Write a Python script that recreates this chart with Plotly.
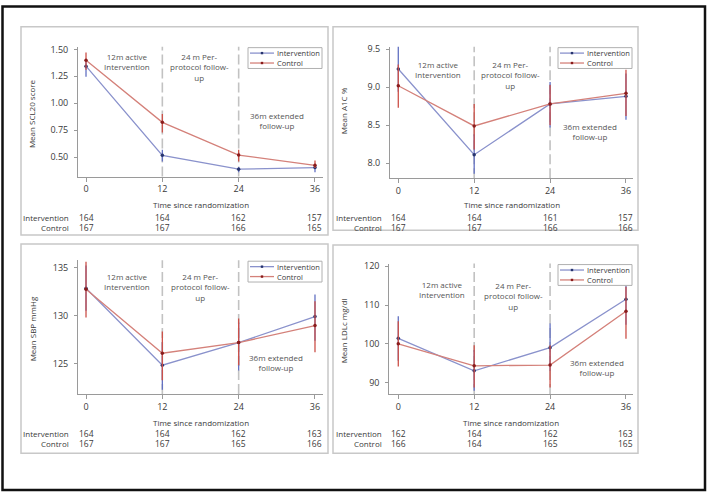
import plotly.graph_objects as go

# ---------------- data ----------------
months = [0, 12, 24, 36]
tick_months = [0, 12, 24, 36]

scl_int = [1.344, 0.517, 0.389, 0.404]
scl_int_lo = [1.246, 0.46, 0.36, 0.36]
scl_int_hi = [1.384, 0.57, 0.41, 0.43]
scl_ctl = [1.40, 0.823, 0.52, 0.424]
scl_ctl_lo = [1.31, 0.73, 0.46, 0.40]
scl_ctl_hi = [1.47, 0.90, 0.57, 0.47]

a1c_int = [9.24, 8.11, 8.78, 8.88]
a1c_int_lo = [8.94, 7.86, 8.47, 8.57]
a1c_int_hi = [9.55, 8.38, 9.07, 9.18]
a1c_ctl = [9.02, 8.49, 8.78, 8.92]
a1c_ctl_lo = [8.73, 8.18, 8.50, 8.62]
a1c_ctl_hi = [9.30, 8.78, 9.03, 9.23]

sbp_int = [132.85, 124.85, 127.2, 129.9]
sbp_int_lo = [130.5, 122.3, 124.3, 127.4]
sbp_int_hi = [135.2, 127.25, 129.3, 132.2]
sbp_ctl = [132.75, 126.1, 127.2, 128.97]
sbp_ctl_lo = [129.8, 123.3, 124.85, 126.2]
sbp_ctl_hi = [135.6, 128.35, 129.7, 131.5]

ldl_int = [101.4, 93.0, 99.0, 111.5]
ldl_int_lo = [95.6, 87.9, 93.0, 104.9]
ldl_int_hi = [107.1, 98.4, 105.2, 118.2]
ldl_ctl = [100.0, 94.3, 94.5, 108.4]
ldl_ctl_lo = [94.1, 88.7, 88.7, 101.3]
ldl_ctl_hi = [105.8, 99.6, 99.6, 114.7]

n_int = [[164, 164, 162, 157], [164, 164, 161, 157], [164, 164, 162, 163], [162, 164, 162, 163]]
n_ctl = [[167, 167, 166, 165], [167, 167, 166, 166], [167, 167, 165, 166], [166, 164, 165, 165]]

y_titles = ["Mean SCL20 score", "Mean A1C %", "Mean SBP mmHg", "Mean LDLc mg/dl"]
y_ticks = [[0.5, 0.75, 1.0, 1.25, 1.5], [8.0, 8.5, 9.0, 9.5], [125, 130, 135], [90, 100, 110, 120]]
y_fmt = [".2f", ".1f", "d", "d"]
phase_labels = ["12m active<br>Intervention", "24 m Per-<br>protocol follow-<br>up", "36m extended<br>follow-up"]
series_names = ["Intervention", "Control"]
x_title = "Time since randomization"

panels = [
    (scl_int, scl_int_lo, scl_int_hi, scl_ctl, scl_ctl_lo, scl_ctl_hi),
    (a1c_int, a1c_int_lo, a1c_int_hi, a1c_ctl, a1c_ctl_lo, a1c_ctl_hi),
    (sbp_int, sbp_int_lo, sbp_int_hi, sbp_ctl, sbp_ctl_lo, sbp_ctl_hi),
    (ldl_int, ldl_int_lo, ldl_int_hi, ldl_ctl, ldl_ctl_lo, ldl_ctl_hi),
]

# ---------------- layout geometry (pixels) ----------------
W, H = 708, 494
def X(px): return px / W
def Y(py): return 1 - py / H

geo = [
    dict(l=78, r=323, t=43, b=174, xr=[-1.26, 37.26], yr=[0.32, 1.525]),
    dict(l=390, r=633, t=43, b=175.7, xr=[-1.31, 37.11], yr=[7.80, 9.535]),
    dict(l=78, r=323, t=258.3, b=393.3, xr=[-1.26, 37.26], yr=[121.85, 135.76]),
    dict(l=389.3, r=633, t=261.7, b=393.3, xr=[-1.42, 37.11], yr=[87.0, 120.7]),
]
boxes = [(21, 23, 328, 233), (333, 23, 638, 228), (21, 242, 328, 453), (333, 243, 638, 453)]
ytitle_pos = [(31, 111), (343, 108), (32, 328), (343, 330)]
phase_pos = [
    [(6.4, 58), (17.9, 63.5), (30.1, 117.5)],
    [(6.3, 66.3), (17.7, 72), (30.3, 129)],
    [(6.4, 279.7), (18.0, 285.5), (29.9, 361.2)],
    [(6.9, 287.7), (18.2, 294), (31.4, 366.3)],
]
table_y = [(202, 215, 225), (202, 215, 225), (421.7, 433, 443), (421.7, 433, 443)]
rowlabel_x = [70.7, 383.5, 70.7, 383.5]

FONT = "Open Sans"
TXT = "#3a3a3a"
INT_LINE, INT_ERR, INT_MK = "#8a92cc", "#6270c2", "#27346e"
CTL_LINE, CTL_ERR, CTL_MK = "#d4817a", "#cc5048", "#8a1c1c"

fig = go.Figure()
shapes = []
annotations = []

for i, (p, g) in enumerate(zip(panels, geo)):
    k = "" if i == 0 else str(i + 1)
    xa, ya = "x" + k, "y" + k
    mi, mi_lo, mi_hi, mc, mc_lo, mc_hi = p
    for mean, lo, hi, name, lc, ec, mk in [
        (mi, mi_lo, mi_hi, series_names[0], INT_LINE, INT_ERR, INT_MK),
        (mc, mc_lo, mc_hi, series_names[1], CTL_LINE, CTL_ERR, CTL_MK),
    ]:
        fig.add_trace(go.Scatter(
            x=months, y=mean, xaxis=xa, yaxis=ya, name=name, mode="lines+markers",
            line=dict(color=lc, width=1.3),
            marker=dict(color=mk, size=3.5, symbol="circle"),
            error_y=dict(type="data", symmetric=False,
                         array=[h - m for h, m in zip(hi, mean)],
                         arrayminus=[m - l for m, l in zip(mean, lo)],
                         color=ec, thickness=1.3, width=0),
            showlegend=False, hoverinfo="skip",
        ))
    axx = dict(domain=[X(g["l"]), X(g["r"])], range=g["xr"], anchor=ya,
               tickvals=tick_months, ticks="outside", ticklen=4, tickcolor="#9a9a9a",
               showline=True, linecolor="#9a9a9a", linewidth=1, showgrid=False, zeroline=False,
               tickfont=dict(size=9, color=TXT, family=FONT))
    axy = dict(domain=[Y(g["b"]), Y(g["t"])], range=g["yr"], anchor=xa,
               tickvals=y_ticks[i], tickformat=y_fmt[i], ticks="outside", ticklen=3,
               ticklabelstandoff=4,
               tickcolor="#9a9a9a", showline=True, linecolor="#9a9a9a", linewidth=1,
               showgrid=False, zeroline=False, tickfont=dict(size=9, color=TXT, family=FONT))
    fig.update_layout(**{"xaxis" + k: axx, "yaxis" + k: axy})

    for xv in (12, 24):
        shapes.append(dict(type="line", xref=xa, yref=ya + " domain", x0=xv, x1=xv, y0=0, y1=1,
                           line=dict(color="#c2c2c2", width=1.6, dash="10px,4px"), layer="below"))
    for lab, (xv, py) in zip(phase_labels, phase_pos[i]):
        annotations.append(dict(text=lab, xref=xa, yref="paper", x=xv, y=Y(py), showarrow=False,
                                xanchor="center", yanchor="middle",
                                font=dict(size=8, color="#555555", family=FONT)))
    bx0, by0, bx1, by1 = boxes[i]
    shapes.append(dict(type="rect", xref="paper", yref="paper", x0=X(bx0), x1=X(bx1),
                       y0=Y(by1), y1=Y(by0), line=dict(color="#c8c8c8", width=1.5)))
    tx, ty = ytitle_pos[i]
    annotations.append(dict(text=y_titles[i], xref="paper", yref="paper", x=X(tx), y=Y(ty),
                            textangle=-90, showarrow=False, xanchor="center", yanchor="middle",
                            font=dict(size=8, color=TXT, family=FONT)))
    # manual legend
    lx0, lx1 = g["r"] - 75, g["r"] - 1
    ly0, ly1 = g["t"] + 1, g["t"] + 22
    shapes.append(dict(type="rect", xref="paper", yref="paper", x0=X(lx0), x1=X(lx1),
                       y0=Y(ly1), y1=Y(ly0), line=dict(color="#b0b0b0", width=1),
                       fillcolor="white"))
    for j, (nm, lc, mk) in enumerate([(series_names[0], INT_LINE, INT_MK),
                                       (series_names[1], CTL_LINE, CTL_MK)]):
        ry = ly0 + 5.5 + j * 10
        shapes.append(dict(type="line", xref="paper", yref="paper", x0=X(lx0 + 2), x1=X(lx0 + 26),
                           y0=Y(ry), y1=Y(ry), line=dict(color=lc, width=1.3)))
        shapes.append(dict(type="rect", xref="paper", yref="paper", x0=X(lx0 + 12.8), x1=X(lx0 + 15.2),
                           y0=Y(ry + 1.2), y1=Y(ry - 1.2), line=dict(width=0), fillcolor=mk))
        annotations.append(dict(text=nm, xref="paper", yref="paper", x=X(lx0 + 27), y=Y(ry),
                                showarrow=False, xanchor="left", yanchor="middle",
                                font=dict(size=7.5, color=TXT, family=FONT)))
    t_y, r1, r2 = table_y[i]
    annotations.append(dict(text=x_title, xref=xa + " domain", yref="paper", x=0.5, y=Y(t_y),
                            showarrow=False, xanchor="center", yanchor="middle",
                            font=dict(size=8, color=TXT, family=FONT)))
    for lab, ry, vals in [(series_names[0], r1, n_int[i]), (series_names[1], r2, n_ctl[i])]:
        annotations.append(dict(text=lab, xref="paper", yref="paper", x=X(rowlabel_x[i]), y=Y(ry),
                                showarrow=False, xanchor="right", yanchor="middle",
                                font=dict(size=8, color=TXT, family=FONT)))
        for xv, v in zip(months, vals):
            annotations.append(dict(text=str(v), xref=xa, yref="paper", x=xv, y=Y(ry),
                                    showarrow=False, xanchor="center", yanchor="middle",
                                    font=dict(size=8.5, color=TXT, family=FONT)))

shapes.append(dict(type="rect", xref="paper", yref="paper", x0=X(2.5), x1=X(705), y0=Y(490),
                   y1=Y(2.5), line=dict(color="#111111", width=2.5)))

fig.update_layout(width=W, height=H, margin=dict(l=0, r=0, t=0, b=0),
                  paper_bgcolor="white", plot_bgcolor="white", showlegend=False,
                  shapes=shapes, annotations=annotations,
                  font=dict(family=FONT, size=9, color=TXT))

fig.write_html("out.html", config={"displayModeBar": False},
               post_script="document.body.style.margin='0';document.body.style.overflow='hidden';")
